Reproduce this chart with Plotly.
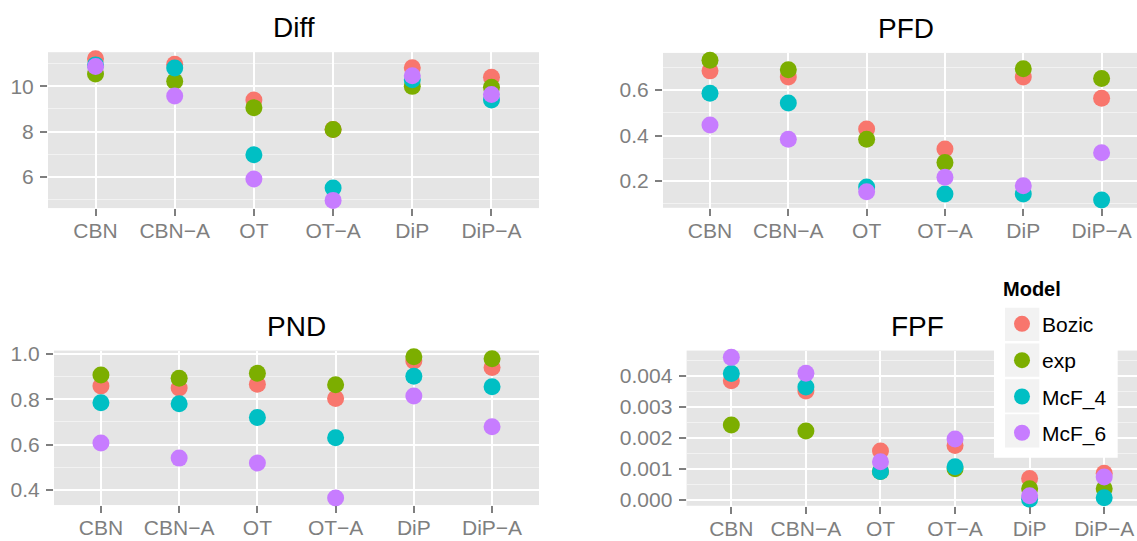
import plotly.graph_objects as go

W, H = 1137, 541

categories = ["CBN", "CBN\u2212A", "OT", "OT\u2212A", "DiP", "DiP\u2212A"]
models = ["Bozic", "exp", "McF_4", "McF_6"]
colors = ["#F8766D", "#7CAE00", "#00BFC4", "#C77CFF"]

# Diff
diff_bozic = [11.22, 10.98, 9.40, 8.09, 10.82, 10.40]
diff_exp = [10.55, 10.23, 9.06, 8.09, 10.00, 9.96]
diff_mcf4 = [10.95, 10.81, 6.98, 5.51, 10.29, 9.40]
diff_mcf6 = [10.88, 9.57, 5.91, 4.96, 10.47, 9.64]

# PFD
pfd_bozic = [0.684, 0.657, 0.429, 0.341, 0.657, 0.564]
pfd_exp = [0.731, 0.689, 0.384, 0.281, 0.693, 0.651]
pfd_mcf4 = [0.586, 0.543, 0.174, 0.143, 0.143, 0.117]
pfd_mcf6 = [0.446, 0.384, 0.153, 0.217, 0.179, 0.324]

# PND
pnd_bozic = [0.858, 0.849, 0.866, 0.803, 0.968, 0.940]
pnd_exp = [0.906, 0.892, 0.914, 0.863, 0.987, 0.978]
pnd_mcf4 = [0.784, 0.780, 0.719, 0.630, 0.901, 0.855]
pnd_mcf6 = [0.607, 0.540, 0.518, 0.364, 0.814, 0.678]

# FPF
fpf_bozic = [0.00384, 0.00351, 0.00157, 0.00175, 0.00068, 0.00085]
fpf_exp = [0.00241, 0.00222, 0.00091, 0.00100, 0.00035, 0.00035]
fpf_mcf4 = [0.00408, 0.00364, 0.00091, 0.00106, 0.00001, 0.00006]
fpf_mcf6 = [0.00460, 0.00409, 0.00122, 0.00196, 0.00012, 0.00073]

panel_titles = ["Diff", "PFD", "PND", "FPF"]
legend_title = "Model"
panel_data = [
    [diff_bozic, diff_exp, diff_mcf4, diff_mcf6],
    [pfd_bozic, pfd_exp, pfd_mcf4, pfd_mcf6],
    [pnd_bozic, pnd_exp, pnd_mcf4, pnd_mcf6],
    [fpf_bozic, fpf_exp, fpf_mcf4, fpf_mcf6],
]
y_ticks = [[6, 8, 10], [0.2, 0.4, 0.6], [0.4, 0.6, 0.8, 1.0],
           [0.000, 0.001, 0.002, 0.003, 0.004]]
y_minor = [[5, 7, 9, 11], [0.1, 0.3, 0.5, 0.7], [0.5, 0.7, 0.9],
           [0.0005, 0.0015, 0.0025, 0.0035, 0.0045]]
y_formats = ["d", ".1f", ".1f", ".3f"]
y_ranges = [[4.62, 11.51], [0.0826, 0.763], [0.333, 1.0142], [-0.0002, 0.00482]]

# panel boxes in pixels: (left, right, top, bottom, x_range_right)
boxes = [
    (48, 539, 45.3, 205.0, 5.6),
    (663, 1137, 46.0, 204.7, 5.452),
    (54, 539, 351.0, 509.3, 5.6),
    (686.6, 1137, 351.0, 510.0, 5.44),
]
full_right = [539, 1149, 539, 1149]

fig = go.Figure()
annotations = []
for p in range(4):
    ax = "" if p == 0 else str(p + 1)
    for m in range(4):
        fig.add_trace(go.Scatter(
            x=categories, y=panel_data[p][m], mode="markers",
            marker=dict(color=colors[m], size=17, line=dict(width=0)),
            name=models[m], legendgroup=models[m], showlegend=(p == 0),
            xaxis="x" + ax, yaxis="y" + ax, cliponaxis=False,
            hoverinfo="skip",
        ))
    l, r, t, b, xr = boxes[p]
    fig.layout["xaxis" + ax] = dict(
        domain=[l / W, r / W], anchor="y" + ax, type="category",
        range=[-0.6, xr], showgrid=True, gridcolor="white", gridwidth=1.6,
        ticks="outside", ticklen=7, tickwidth=1.6, tickcolor="#7F7F7F",
        ticklabelstandoff=-3,
        tickfont=dict(size=21, color="#7F7F7F"), zeroline=False, showline=False,
    )
    fig.layout["yaxis" + ax] = dict(
        domain=[1 - b / H, 1 - t / H], anchor="x" + ax, range=y_ranges[p],
        tickvals=y_ticks[p], tickformat=y_formats[p],
        showgrid=True, gridcolor="white", gridwidth=1.6,
        minor=dict(tickvals=y_minor[p], showgrid=True, gridcolor="#F2F2F2",
                   gridwidth=1, ticks=""),
        ticks="outside", ticklen=7, tickwidth=1.6, tickcolor="#7F7F7F",
        ticklabelstandoff=2,
        tickfont=dict(size=21, color="#7F7F7F"), zeroline=False, showline=False,
    )
    annotations.append(dict(
        text=panel_titles[p], xref="paper", yref="paper",
        x=(l + full_right[p]) / 2 / W, y=1 - (t - 7) / H,
        xanchor="center", yanchor="bottom", showarrow=False,
        font=dict(size=28, color="black"),
    ))

annotations.append(dict(
    text="<b>" + legend_title + "</b>", xref="paper", yref="paper",
    x=1001 / W, y=1 - 288.3 / H, xanchor="left", yanchor="middle",
    showarrow=False, font=dict(size=20, color="black"),
))

shapes = [dict(type="rect", xref="paper", yref="paper", layer="above",
               x0=994 / W, x1=1117.7 / W, y0=1 - 460.7 / H, y1=1 - 272 / H,
               fillcolor="white", line=dict(width=0))]
for cy in [324.2, 360.8, 397.5, 433.3]:
    shapes.append(dict(type="rect", xref="paper", yref="paper", layer="above",
                       x0=1005 / W, x1=1039.3 / W,
                       y0=1 - (cy + 17) / H, y1=1 - (cy - 17) / H,
                       fillcolor="#F2F2F2", line=dict(width=0)))

fig.update_layout(
    width=W, height=H, margin=dict(l=0, r=0, t=0, b=0),
    paper_bgcolor="white", plot_bgcolor="#E5E5E5",
    font=dict(family="Liberation Sans, Arial, sans-serif"),
    annotations=annotations, shapes=shapes,
    legend=dict(
        x=1002 / W, y=1 - 303 / H, xanchor="left", yanchor="top",
        bgcolor="rgba(0,0,0,0)", font=dict(size=21, color="black"),
        tracegroupgap=6, itemsizing="trace",
    ),
)

fig.write_html(
    "out.html",
    config={"displayModeBar": False},
    post_script="document.body.style.margin='0';document.body.style.padding='0';",
)
